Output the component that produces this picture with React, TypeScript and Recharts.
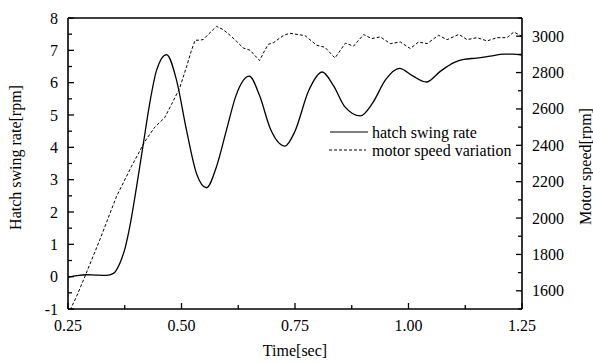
import React from "react"
import {
  LineChart,
  Line,
  XAxis,
  YAxis,
  Legend,
  ReferenceLine,
  Label,
} from "recharts"

// hatch swing rate [rpm] (left axis)
const hatchTime = [
  0.25, 0.27, 0.29, 0.31, 0.335, 0.35, 0.364, 0.376, 0.386, 0.401, 0.416, 0.43,
  0.445, 0.467, 0.489, 0.511, 0.533, 0.555, 0.577, 0.599, 0.62, 0.649, 0.672,
  0.695, 0.728, 0.75, 0.78, 0.81, 0.835, 0.86, 0.894, 0.92, 0.95, 0.98, 1.01,
  1.039, 1.07, 1.1, 1.122, 1.15, 1.18, 1.21, 1.23, 1.25,
]
const hatchRate = [
  -0.02, 0.03, 0.06, 0.05, 0.04, 0.1, 0.41, 0.9, 1.54, 2.78, 4.12, 5.36, 6.38,
  6.87, 6.08, 4.53, 3.19, 2.75, 3.4, 4.53, 5.6, 6.2, 5.6, 4.6, 4.04, 4.5, 5.75,
  6.33, 5.9, 5.25, 4.97, 5.35, 6.1, 6.44, 6.2, 6.02, 6.35, 6.62, 6.72, 6.76,
  6.82, 6.88, 6.88, 6.85,
]

// motor speed [rpm] (right axis)
const motorTime = [
  0.25, 0.268, 0.287, 0.32, 0.357, 0.39, 0.419, 0.441, 0.463, 0.478, 0.496,
  0.511, 0.521, 0.53, 0.541, 0.548, 0.557, 0.577, 0.592, 0.607, 0.622, 0.636,
  0.651, 0.672, 0.683, 0.691, 0.703, 0.725, 0.739, 0.772, 0.798, 0.816, 0.838,
  0.861, 0.879, 0.901, 0.919, 0.938, 0.96, 0.982, 1.004, 1.022, 1.041, 1.066,
  1.085, 1.111, 1.129, 1.151, 1.173, 1.195, 1.217, 1.232, 1.25,
]
const motorSpeed = [
  1470, 1564, 1677, 1880, 2120, 2285, 2420, 2500, 2552, 2625, 2715, 2831, 2915,
  2978, 2978, 2982, 3005, 3054, 3036, 3005, 2970, 2935, 2923, 2866, 2920, 2955,
  2965, 3005, 3016, 3003, 2950, 2939, 2880, 2962, 2945, 3009, 2987, 2996, 2959,
  2968, 2932, 2968, 2959, 3005, 2981, 3010, 2981, 2992, 2974, 2992, 2992, 3023,
  2999,
]

const seriesNames = ["hatch swing rate", "motor speed variation"]

const xTicks = [0.25, 0.375, 0.5, 0.625, 0.75, 0.875, 1.0, 1.125, 1.25]
const xMajor = [0.25, 0.5, 0.75, 1.0, 1.25]
const leftTicks = [-1, -0.5, 0, 0.5, 1, 1.5, 2, 2.5, 3, 3.5, 4, 4.5, 5, 5.5, 6, 6.5, 7, 7.5, 8]
const rightTicks = [1500, 1600, 1700, 1800, 1900, 2000, 2100, 2200, 2300, 2400, 2500, 2600, 2700, 2800, 2900, 3000, 3100]
const rightMajor = [1600, 1800, 2000, 2200, 2400, 2600, 2800, 3000]

const hatchData = hatchTime.map((t, i) => ({ t, v: hatchRate[i] }))
const motorData = motorTime.map((t, i) => ({ t, v: motorSpeed[i] }))

const FONT = "'Liberation Serif', 'Times New Roman', serif"

function XTick(props: any) {
  const { x, y, payload } = props
  const major = xMajor.includes(payload.value)
  return (
    <g>
      <line x1={x} y1={y} x2={x} y2={y - (major ? 6 : 4)} stroke="#000" strokeWidth={1.3} />
      {major && (
        <text x={x} y={y + 22} textAnchor="middle" fontSize={16} fontFamily={FONT} fill="#000">
          {payload.value.toFixed(2)}
        </text>
      )}
    </g>
  )
}

function LeftTick(props: any) {
  const { x, y, payload } = props
  const major = Number.isInteger(payload.value)
  return (
    <g>
      <line x1={x} y1={y} x2={x + (major ? 6 : 4)} y2={y} stroke="#000" strokeWidth={1.3} />
      {major && (
        <text x={x - 10} y={y} textAnchor="end" dominantBaseline="central" fontSize={16} fontFamily={FONT} fill="#000">
          {payload.value}
        </text>
      )}
    </g>
  )
}

function RightTick(props: any) {
  const { x, y, payload } = props
  const major = rightMajor.includes(payload.value)
  return (
    <g>
      <line x1={x} y1={y} x2={x - (major ? 6 : 4)} y2={y} stroke="#000" strokeWidth={1.3} />
      {major && (
        <text x={x + 10} y={y} textAnchor="start" dominantBaseline="central" fontSize={16} fontFamily={FONT} fill="#000">
          {payload.value}
        </text>
      )}
    </g>
  )
}

function LegendBox() {
  return (
    <svg width={220} height={40}>
      <line x1={2} y1={9} x2={40} y2={9} stroke="#000" strokeWidth={1.2} />
      <text x={44} y={9} dominantBaseline="central" fontSize={16} fontFamily={FONT} fill="#000">
        {seriesNames[0]}
      </text>
      <line x1={1} y1={27} x2={38} y2={27} stroke="#000" strokeWidth={1} strokeDasharray="3 2" />
      <text x={44} y={27} dominantBaseline="central" fontSize={16} fontFamily={FONT} fill="#000">
        {seriesNames[1]}
      </text>
    </svg>
  )
}

export default function App() {
  return (
    <div style={{ position: "absolute", left: 0, top: 0, background: "#fff" }}>
      <LineChart width={593} height={363} margin={{ top: 18, right: 11, bottom: 4, left: 8 }}>
        <XAxis
          dataKey="t"
          type="number"
          domain={[0.25, 1.25]}
          ticks={xTicks}
          interval={0}
          tickSize={0}
          tickMargin={0}
          tickLine={false}
          tick={<XTick />}
          height={50}
          allowDuplicatedCategory={false}
          axisLine={{ stroke: "#000", strokeWidth: 1.6 }}
        >
          <Label
            content={(p: any) => (
              <text
                x={p.viewBox.x + p.viewBox.width / 2}
                y={p.viewBox.y + 47}
                textAnchor="middle"
                fontSize={16}
                fontFamily={FONT}
                fill="#000"
              >
                Time[sec]
              </text>
            )}
          />
        </XAxis>
        <YAxis
          yAxisId="left"
          type="number"
          domain={[-1, 8]}
          ticks={leftTicks}
          interval={0}
          allowDataOverflow
          width={60}
          tickSize={0}
          tickMargin={0}
          tickLine={false}
          tick={<LeftTick />}
          axisLine={{ stroke: "#000", strokeWidth: 1.6 }}
        >
          <Label
            content={(p: any) => {
              const cx = p.viewBox.x + 7
              const cy = p.viewBox.y + p.viewBox.height / 2 - 6
              return (
                <text
                  x={cx}
                  y={cy}
                  transform={`rotate(-90 ${cx} ${cy})`}
                  textAnchor="middle"
                  dominantBaseline="central"
                  fontSize={16}
                  fontFamily={FONT}
                  fill="#000"
                >
                  Hatch swing rate[rpm]
                </text>
              )
            }}
          />
        </YAxis>
        <YAxis
          yAxisId="right"
          orientation="right"
          type="number"
          domain={[1500, 3100]}
          ticks={rightTicks}
          interval={0}
          allowDataOverflow
          width={60}
          tickSize={0}
          tickMargin={0}
          tickLine={false}
          tick={<RightTick />}
          axisLine={{ stroke: "#000", strokeWidth: 1.6 }}
        >
          <Label
            content={(p: any) => {
              const cx = p.viewBox.x + 63
              const cy = p.viewBox.y + p.viewBox.height / 2 + 3
              return (
                <text
                  x={cx}
                  y={cy}
                  transform={`rotate(-90 ${cx} ${cy})`}
                  textAnchor="middle"
                  dominantBaseline="central"
                  fontSize={16}
                  fontFamily={FONT}
                  fill="#000"
                >
                  Motor speed[rpm]
                </text>
              )
            }}
          />
        </YAxis>
        <ReferenceLine yAxisId="left" y={8} stroke="#000" strokeWidth={1.6} />
        <Legend
          layout="vertical"
          align="center"
          verticalAlign="middle"
          content={() => <LegendBox />}
          wrapperStyle={{ position: "absolute", left: 328, top: 123, width: 220 }}
        />
        <Line
          yAxisId="left"
          data={hatchData}
          dataKey="v"
          name={seriesNames[0]}
          type="monotone"
          stroke="#000"
          strokeWidth={1.3}
          dot={false}
          activeDot={false}
          isAnimationActive={false}
        />
        <Line
          yAxisId="right"
          data={motorData}
          dataKey="v"
          name={seriesNames[1]}
          type="linear"
          stroke="#000"
          strokeWidth={1}
          strokeDasharray="3 2"
          dot={false}
          activeDot={false}
          isAnimationActive={false}
        />
      </LineChart>
    </div>
  )
}
